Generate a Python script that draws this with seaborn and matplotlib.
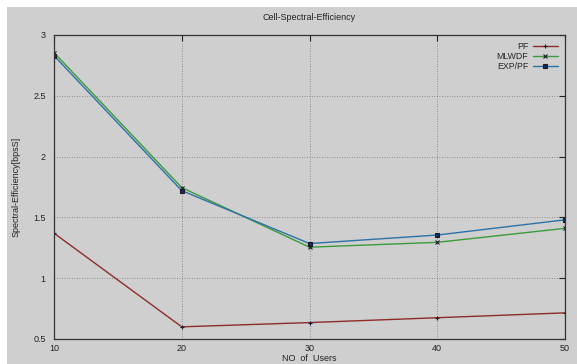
import matplotlib
matplotlib.use("Agg")
import matplotlib.pyplot as plt
import matplotlib.patches as mpatches
import seaborn as sns
import pandas as pd

users = [10, 20, 30, 40, 50]
pf = [1.37, 0.60, 0.635, 0.675, 0.715]
mlwdf = [2.855, 1.745, 1.255, 1.295, 1.41]
exppf = [2.83, 1.72, 1.285, 1.355, 1.48]
series_names = ["PF", "MLWDF", "EXP/PF"]

sns.set_theme(style="white")
plt.rcParams["font.family"] = ["Liberation Sans", "DejaVu Sans"]

bg = "#cfcfcf"
fig = plt.figure(figsize=(5.77, 3.64), dpi=100)
fig.patch.set_facecolor("white")
fig.patches.append(mpatches.Rectangle((7 / 577, 0), 1, 1 - 7 / 364, transform=fig.transFigure,
                                      facecolor=bg, edgecolor="none", zorder=-10))
ax = fig.add_axes([54 / 577, 1 - 339 / 364, (565 - 54) / 577, (339 - 35) / 364])
ax.set_facecolor(bg)

colors = ["#8e2b2b", "#3c9a3c", "#2b72a6"]
markers = ["+", "x", "s"]
msizes = [3.5, 3, 2.2]
for name, vals, c, m, ms in zip(series_names, [pf, mlwdf, exppf], colors, markers, msizes):
    d = pd.DataFrame({"users": users, "eff": vals})
    sns.lineplot(data=d, x="users", y="eff", ax=ax, color=c, label=name,
                 marker=m, markersize=ms, linewidth=1.0,
                 markeredgecolor="#1a1a2a", markerfacecolor="#1a2a5a",
                 markeredgewidth=0.8)

ax.set_xlim(10, 50)
ax.set_ylim(0.5, 3.0)
ax.set_xticks([10, 20, 30, 40, 50])
ax.set_yticks([0.5, 1, 1.5, 2, 2.5, 3])
ax.set_yticklabels(["0.5", "1", "1.5", "2", "2.5", "3"])
ax.grid(True, color="#777777", linestyle=(0, (1, 2)), linewidth=0.6)
ax.tick_params(direction="in", length=4, width=0.8, labelsize=6.5, colors="#222222",
               top=True, right=True)
ax.tick_params(axis="x", pad=3.5)
ax.tick_params(axis="y", pad=6)
for s in ax.spines.values():
    s.set_color("#333333")
    s.set_linewidth(0.9)

ax.set_title("Cell-Spectral-Efficiency", fontsize=6.5, pad=11, color="#222222")
ax.set_xlabel("NO  of  Users", fontsize=6.5, labelpad=0.5, color="#222222")
ax.set_ylabel("Spectral-Efficiency[bpsS]", fontsize=6.5, labelpad=9, color="#222222")

leg = ax.legend(loc="upper right", markerfirst=False, frameon=False, fontsize=6.3,
                handlelength=2.9, labelspacing=0.1, borderaxespad=0.7, handletextpad=0.5,
                borderpad=0.1)

fig.savefig("out.png", dpi=100, facecolor=fig.get_facecolor())
